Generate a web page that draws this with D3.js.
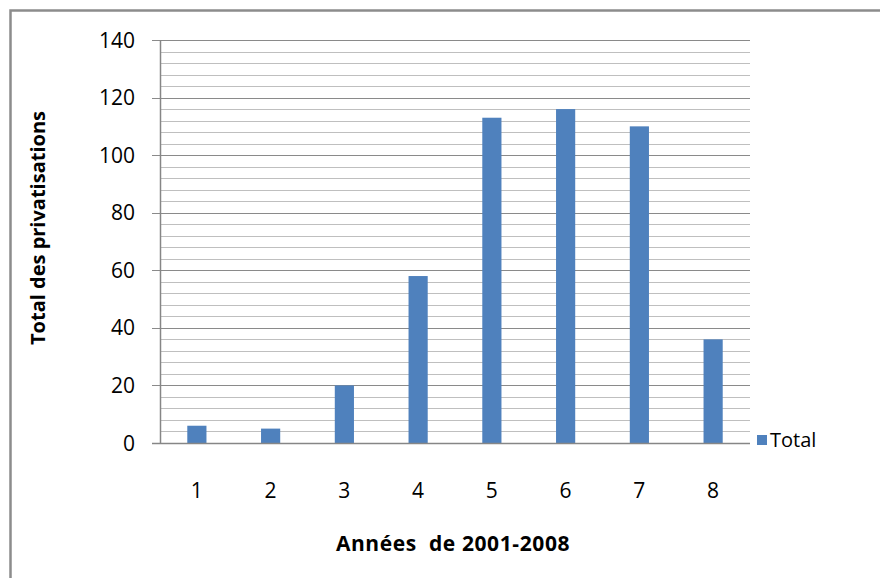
<!DOCTYPE html>
<html>
<head>
<meta charset="utf-8">
<script src="https://cdn.jsdelivr.net/npm/d3@7"></script>
<style>
  body { margin: 0; background: #fff; }
  text { font-family: "Open Sans", "Liberation Sans", sans-serif; fill: #000; }
</style>
</head>
<body>
<svg id="chart" width="880" height="578"></svg>
<script>
var categories = ["1", "2", "3", "4", "5", "6", "7", "8"];
var totals = [6, 5, 20, 58, 113, 116, 110, 36];
var yTicks = [0, 20, 40, 60, 80, 100, 120, 140];
var seriesName = "Total";

var svg = d3.select("#chart");
var margin = {top: 40, left: 160, right: 130, bottom: 135},
    width = 880 - margin.left - margin.right,
    height = 578 - margin.top - margin.bottom;

// outer frame (only left and top show in the picture)
svg.append("rect")
    .attr("x", 10.5).attr("y", 10.5)
    .attr("width", 900).attr("height", 600)
    .attr("fill", "none").attr("stroke", "#8c8c8c").attr("stroke-width", 2.5);

var g = svg.append("g").attr("transform", "translate(" + margin.left + "," + margin.top + ")");

var x = d3.scaleBand().domain(categories).range([0, width]).paddingInner(0.74).paddingOuter(0.37);
var y = d3.scaleLinear().domain([0, 140]).range([height, 0]);

// minor gridlines every 4
g.append("g").selectAll("line")
    .data(d3.range(4, 141, 4).filter(function(v) { return v % 20 !== 0; }))
  .enter().append("line")
    .attr("x1", 0).attr("x2", width)
    .attr("y1", function(d) { return Math.round(y(d)) + 0.5; })
    .attr("y2", function(d) { return Math.round(y(d)) + 0.5; })
    .attr("stroke", "#bfbfbf").attr("stroke-width", 1.2);

// major gridlines
g.append("g").selectAll("line")
    .data(yTicks.slice(1))
  .enter().append("line")
    .attr("x1", -8).attr("x2", width)
    .attr("y1", function(d) { return Math.round(y(d)) + 0.5; })
    .attr("y2", function(d) { return Math.round(y(d)) + 0.5; })
    .attr("stroke", "#8a8a8a").attr("stroke-width", 1.2);

g.selectAll(".bar")
    .data(totals)
  .enter().append("rect")
    .attr("class", "bar")
    .attr("x", function(d, i) { return x(categories[i]); })
    .attr("width", x.bandwidth())
    .attr("y", function(d) { return y(d); })
    .attr("height", function(d) { return height - y(d); })
    .attr("fill", "#4f81bd");

// axes lines
g.append("line").attr("x1", 0.5).attr("x2", 0.5).attr("y1", 0).attr("y2", height)
    .attr("stroke", "#868686").attr("stroke-width", 1.5);
g.append("line").attr("x1", -8).attr("x2", width).attr("y1", height + 0.5).attr("y2", height + 0.5)
    .attr("stroke", "#868686").attr("stroke-width", 1.5);

// y tick labels
g.append("g").selectAll("text")
    .data(yTicks)
  .enter().append("text")
    .attr("x", -25)
    .attr("y", function(d) { return y(d); })
    .attr("dy", "0.36em")
    .attr("text-anchor", "end")
    .style("font-size", "21px")
    .text(function(d) { return d; });

// x tick labels
g.append("g").selectAll("text")
    .data(categories)
  .enter().append("text")
    .attr("x", function(d) { return x(d) + x.bandwidth() / 2; })
    .attr("y", height + 47)
    .attr("dy", "0.36em")
    .attr("text-anchor", "middle")
    .style("font-size", "21px")
    .text(function(d) { return d; });

// axis titles
svg.append("text")
    .attr("x", 453).attr("y", 543)
    .attr("dy", "0.36em")
    .attr("text-anchor", "middle")
    .style("font-size", "21px").style("font-weight", "bold")
    .style("letter-spacing", "0.6px")
    .style("white-space", "pre").attr("xml:space", "preserve")
    .text("Années  de 2001-2008");

svg.append("text")
    .attr("transform", "translate(38,228) rotate(-90)")
    .attr("dy", "0.36em")
    .attr("text-anchor", "middle")
    .style("font-size", "20px").style("font-weight", "bold")
    .text("Total des privatisations");

// legend
var legend = svg.append("g").attr("transform", "translate(757,435)");
legend.append("rect").attr("width", 10).attr("height", 10).attr("fill", "#4f81bd");
legend.append("text").attr("x", 13).attr("y", 5).attr("dy", "0.36em")
    .style("font-size", "20px").text(seriesName);
</script>
</body>
</html>
